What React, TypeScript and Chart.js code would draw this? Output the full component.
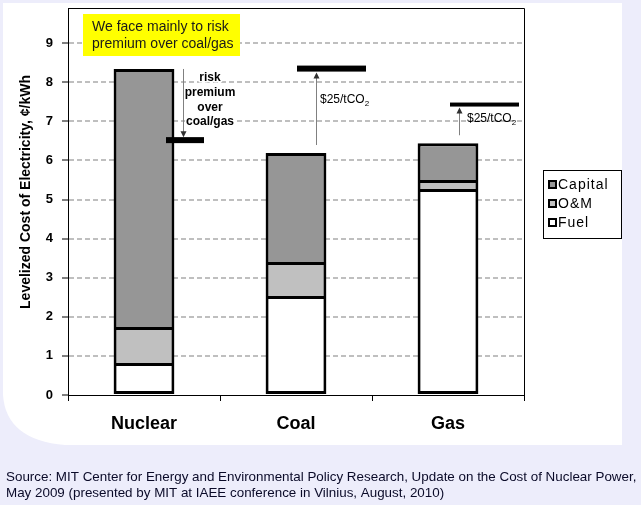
import React, { useEffect, useRef } from 'react';
import { Chart, registerables } from 'chart.js';

Chart.register(...registerables);

// ---------- data ----------
const categories = ['Nuclear', 'Coal', 'Gas'];
const fuel = [0.82, 2.53, 5.27];
const om = [0.92, 0.87, 0.23];
const capital = [6.6, 2.79, 0.94];
const withCarbonPrice = [null, 8.35, 7.43];
const riskPremiumTarget = [6.52, null, null];
const yTickValues = [0, 1, 2, 3, 4, 5, 6, 7, 8, 9];
const yMax = 9.9;
const legendItems = ['Capital', 'O&M', 'Fuel'];
const noteLines = ['We face mainly to risk', 'premium over coal/gas'];
const riskLines = ['risk', 'premium', 'over', 'coal/gas'];
const carbonLabel = '$25/tCO';
const yTitle = 'Levelized Cost of Electricity, \u00A2/kWh';
const sourceLines = [
  'Source: MIT Center for Energy and Environmental Policy Research, Update on the Cost of Nuclear Power,',
  'May 2009 (presented by MIT at IAEE conference in Vilnius, August, 2010)',
];

const COLORS: Record<string, string> = { Capital: '#969696', 'O&M': '#C0C0C0', Fuel: '#FFFFFF' };
const FONT = '"Liberation Sans", Arial, sans-serif';
const LAV = '#EDEDFB';

function drawArrow(ctx: CanvasRenderingContext2D, x: number, yFrom: number, yTo: number) {
  const dir = yTo > yFrom ? 1 : -1;
  ctx.save();
  ctx.strokeStyle = '#808080';
  ctx.lineWidth = 1;
  ctx.beginPath();
  ctx.moveTo(x + 0.5, yFrom);
  ctx.lineTo(x + 0.5, yTo - dir * 5);
  ctx.stroke();
  ctx.fillStyle = '#303030';
  ctx.beginPath();
  ctx.moveTo(x + 0.5, yTo);
  ctx.lineTo(x + 0.5 - 3, yTo - dir * 6);
  ctx.lineTo(x + 0.5 + 3, yTo - dir * 6);
  ctx.closePath();
  ctx.fill();
  ctx.restore();
}

function drawCarbonLabel(ctx: CanvasRenderingContext2D, x: number, y: number) {
  ctx.save();
  ctx.fillStyle = '#000';
  ctx.textBaseline = 'middle';
  ctx.textAlign = 'left';
  ctx.font = `12px ${FONT}`;
  ctx.fillText(carbonLabel, x, y);
  const w = ctx.measureText(carbonLabel).width;
  ctx.font = `8px ${FONT}`;
  ctx.fillText('2', x + w, y + 4);
  ctx.restore();
}

const decoPlugin = {
  id: 'deco',
  beforeDraw(chart: any) {
    const ctx = chart.ctx as CanvasRenderingContext2D;
    ctx.save();
    ctx.fillStyle = LAV;
    ctx.fillRect(0, 0, chart.width, chart.height);
    ctx.fillStyle = '#FFFFFF';
    ctx.fillRect(3, 3, 619, 442);
    ctx.fillStyle = LAV;
    ctx.beginPath();
    ctx.moveTo(3, 395);
    ctx.quadraticCurveTo(6, 440, 65, 445);
    ctx.lineTo(3, 445);
    ctx.closePath();
    ctx.fill();
    ctx.restore();
  },
  afterDraw(chart: any) {
    const ctx = chart.ctx as CanvasRenderingContext2D;
    const a = chart.chartArea;
    const xs = chart.scales.x;
    const ys = chart.scales.y;
    ctx.save();

    // plot frame (top / right)
    ctx.strokeStyle = '#000';
    ctx.lineWidth = 1;
    ctx.beginPath();
    ctx.moveTo(a.left, Math.round(a.top) + 0.5);
    ctx.lineTo(Math.round(a.right) + 0.5, Math.round(a.top) + 0.5);
    ctx.lineTo(Math.round(a.right) + 0.5, a.bottom);
    ctx.stroke();

    // yellow note
    ctx.fillStyle = '#FFFF00';
    ctx.fillRect(a.left + 15, a.top + 6, 157, 42);
    ctx.fillStyle = '#1A1A1A';
    ctx.font = `14px ${FONT}`;
    ctx.textBaseline = 'middle';
    ctx.textAlign = 'left';
    noteLines.forEach((t, k) => ctx.fillText(t, a.left + 24, a.top + 19 + k * 17));

    // annotations per category
    categories.forEach((_, i) => {
      const cx = xs.getPixelForValue(i);
      const total = fuel[i] + om[i] + capital[i];
      const topPx = ys.getPixelForValue(total);
      const risk = riskPremiumTarget[i];
      if (risk != null) {
        const ly = ys.getPixelForValue(risk);
        ctx.fillStyle = '#000';
        ctx.fillRect(cx + 22, ly - 3, 38, 6);
        drawArrow(ctx, cx + 39, topPx, ly - 3);
        ctx.save();
        ctx.font = `bold 12px ${FONT}`;
        ctx.textAlign = 'center';
        ctx.textBaseline = 'middle';
        ctx.lineWidth = 3;
        ctx.strokeStyle = '#FFFFFF';
        ctx.lineJoin = 'round';
        riskLines.forEach((t, k) => {
          ctx.strokeText(t, cx + 66, topPx + 9 + k * 14.7);
          ctx.fillStyle = '#000';
          ctx.fillText(t, cx + 66, topPx + 9 + k * 14.7);
        });
        ctx.restore();
      }
      const carbon = withCarbonPrice[i];
      if (carbon != null) {
        const ly = ys.getPixelForValue(carbon);
        const thick = i === 1 ? 6 : 4;
        ctx.fillStyle = '#000';
        ctx.fillRect(cx + 1 + (i === 2 ? 1 : 0), ly - thick / 2, 69, thick);
        const ax = i === 1 ? cx + 20 : cx + 11;
        drawArrow(ctx, ax, topPx - 8, ly + thick / 2 + 1);
        if (i === 1) drawCarbonLabel(ctx, cx + 24, ly + 31);
        else drawCarbonLabel(ctx, cx + 19, ly + 14);
      }
    });

    // y axis title
    ctx.save();
    ctx.translate(26, 192);
    ctx.rotate(-Math.PI / 2);
    ctx.font = `bold 14px ${FONT}`;
    ctx.fillStyle = '#000';
    ctx.textAlign = 'center';
    ctx.textBaseline = 'middle';
    ctx.fillText(yTitle, 0, 0);
    ctx.restore();

    // legend
    const lx = 543, ly0 = 170, lw = 78, lh = 68;
    ctx.fillStyle = '#FFFFFF';
    ctx.fillRect(lx, ly0, lw, lh);
    ctx.strokeStyle = '#000';
    ctx.lineWidth = 1;
    ctx.strokeRect(lx + 0.5, ly0 + 0.5, lw, lh);
    legendItems.forEach((name, k) => {
      const cy = ly0 + 14 + k * 19;
      ctx.fillStyle = '#000';
      ctx.fillRect(lx + 5, cy - 4, 9, 9);
      ctx.fillStyle = COLORS[name];
      ctx.fillRect(lx + 7, cy - 2, 5, 5);
      ctx.fillStyle = '#000';
      ctx.font = `14px ${FONT}`;
      (ctx as any).letterSpacing = '1px';
      ctx.textAlign = 'left';
      ctx.textBaseline = 'middle';
      ctx.fillText(name, lx + 15, cy + 1);
      (ctx as any).letterSpacing = '0px';
    });

    // source
    ctx.fillStyle = '#0A0A28';
    ctx.font = `13.4px ${FONT}`;
    ctx.textAlign = 'left';
    ctx.textBaseline = 'middle';
    sourceLines.forEach((t, k) => ctx.fillText(t, 6, 477 + k * 16));

    ctx.restore();
  },
};

export default function App() {
  const ref = useRef<HTMLCanvasElement | null>(null);
  useEffect(() => {
    if (!ref.current) return;
    const seg = (label: string, data: number[], bottom: number) => ({
      label,
      data,
      backgroundColor: COLORS[label],
      borderColor: '#000',
      borderWidth: { top: 3, left: 3, right: 3, bottom },
      borderSkipped: false,
    });
    const chart = new Chart(ref.current, {
      type: 'bar',
      data: {
        labels: categories,
        datasets: [seg('Fuel', fuel, 3), seg('O&M', om, 0), seg('Capital', capital, 0)] as any,
      },
      options: {
        responsive: false,
        animation: false,
        devicePixelRatio: 1,
        datasets: { bar: { categoryPercentage: 1, barPercentage: 0.4, inflateAmount: 0 } as any },
        layout: { autoPadding: false, padding: { top: 8, right: 117, left: 0, bottom: 0 } },
        plugins: { legend: { display: false }, tooltip: { enabled: false }, title: { display: false } },
        scales: {
          x: {
            stacked: true,
            offset: true,
            grid: {
              offset: true,
              drawOnChartArea: false,
              drawTicks: true,
              tickLength: 6,
              color: '#000',
              tickColor: '#000',
              lineWidth: 1,
            },
            border: { display: true, color: '#000', width: 1 },
            ticks: { color: '#000', font: { family: FONT, size: 18, weight: 'bold' }, padding: 12 },
            afterFit: (s: any) => {
              s.height = 110;
              s.paddingLeft = 0; s.paddingRight = 0; s.paddingTop = 0; s.paddingBottom = 0;
            },
          },
          y: {
            stacked: true,
            min: 0,
            max: yMax,
            afterBuildTicks: (axis: any) => { axis.ticks = yTickValues.map((v) => ({ value: v })); },
            grid: {
              color: (c: any) => (c.tick && c.tick.value === 0 ? 'rgba(0,0,0,0)' : '#BFBFBF'),
              lineWidth: 2,
              drawTicks: true,
              tickLength: 6,
              tickColor: '#000',
              tickWidth: 1,
              tickBorderDash: [],
            },
            border: { display: true, color: '#000', width: 1, dash: [5, 3] },
            ticks: { color: '#000', font: { family: FONT, size: 13, weight: 'bold' }, padding: 9 },
            afterFit: (s: any) => {
              s.width = 68;
              s.paddingLeft = 0; s.paddingRight = 0; s.paddingTop = 0; s.paddingBottom = 0;
            },
          },
        },
      } as any,
      plugins: [decoPlugin],
    });
    return () => chart.destroy();
  }, []);
  return (
    <div style={{ position: 'fixed', left: 0, top: 0, width: 641, height: 505 }}>
      <canvas ref={ref} width={641} height={505} style={{ display: 'block' }} />
    </div>
  );
}
